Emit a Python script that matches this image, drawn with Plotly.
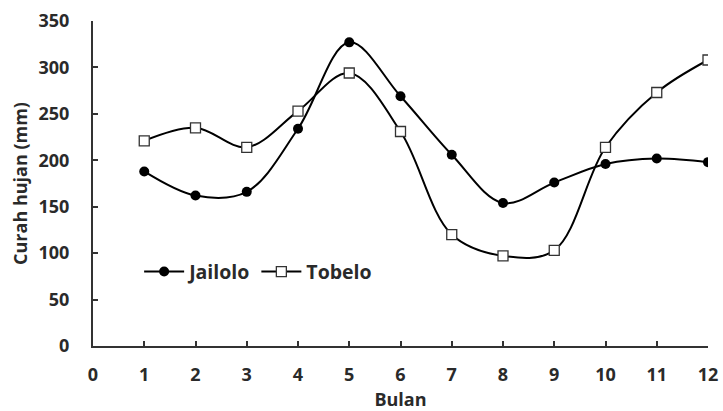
import plotly.graph_objects as go

months = list(range(1, 13))
jailolo = [188, 162, 166, 234, 327, 269, 206, 154, 176, 196, 202, 198]
tobelo = [221, 235, 214, 253, 294, 231, 120, 97, 103, 214, 273, 308]

FONT = "Open Sans"
TXT = "#2a2a2a"

fig = go.Figure()
fig.add_trace(go.Scatter(
    x=months, y=jailolo, name="Jailolo", mode="lines+markers",
    line=dict(color="black", width=2, shape="spline", smoothing=1),
    marker=dict(symbol="circle", size=10, color="black"),
))
fig.add_trace(go.Scatter(
    x=months, y=tobelo, name="Tobelo", mode="lines+markers",
    line=dict(color="black", width=2, shape="spline", smoothing=1),
    marker=dict(symbol="square", size=10, color="white",
                line=dict(color="#333", width=1.3)),
))

fig.update_layout(
    width=723, height=411,
    margin=dict(l=93, r=15, t=21, b=65),
    paper_bgcolor="white", plot_bgcolor="white",
    font=dict(family=FONT, size=18, color=TXT, weight="bold"),
    legend=dict(orientation="h", x=0.075, y=0.228, xanchor="left", yanchor="middle",
                bgcolor="rgba(0,0,0,0)", font=dict(size=19.5, family=FONT, weight="bold"),
                itemwidth=40, tracegroupgap=0),
    showlegend=True,
)
fig.update_xaxes(
    range=[0, 12], tickmode="linear", tick0=0, dtick=1, automargin=False,
    showgrid=False, zeroline=False, showline=True, linecolor="#333", linewidth=2,
    ticks="inside", ticklen=5, tickcolor="#333", tickwidth=2,
    ticklabelstandoff=11,
    title=dict(text="Bulan", font=dict(size=18, family=FONT, weight="bold"), standoff=13),
)
fig.update_yaxes(
    range=[0, 350], tickmode="linear", tick0=0, dtick=50, automargin=False,
    showgrid=False, zeroline=False, showline=True, linecolor="#333", linewidth=2,
    ticks="inside", ticklen=5, tickcolor="#333", tickwidth=2,
    ticklabelstandoff=18,
    title=dict(text="Curah hujan (mm)", font=dict(size=18, family=FONT, weight="bold"), standoff=6),
)

fig.write_html(
    "out.html",
    config={"displayModeBar": False},
    post_script="document.body.style.margin='0';document.body.style.overflow='hidden';",
)
